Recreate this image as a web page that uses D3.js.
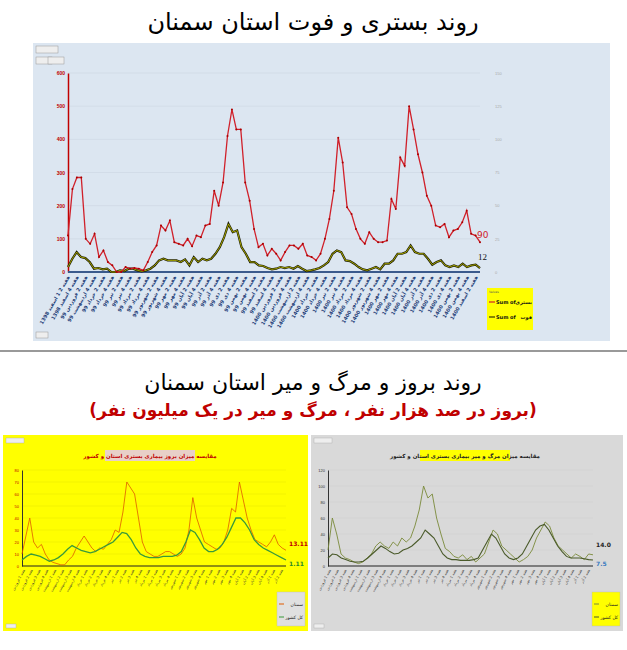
<!DOCTYPE html>
<html><head><meta charset="utf-8">
<script src="https://cdn.jsdelivr.net/npm/d3@7"></script>
<style>body{margin:0;background:#fff;font-family:"DejaVu Sans",sans-serif}</style>
</head><body><div id="chart"></div>
<script>
// top chart: hospitalised (bastari) and deaths (fot), weekly
const hosp = [110,250,285,285,100,85,115,45,65,30,20,0,0,15,10,12,10,5,30,60,80,140,125,155,90,85,80,100,78,110,105,140,145,245,200,270,410,490,430,430,270,215,130,75,85,50,70,55,35,60,80,80,70,85,50,45,35,55,100,160,245,405,330,195,175,130,100,85,120,100,90,90,95,220,190,345,320,500,430,355,300,230,200,140,135,145,105,125,130,150,185,115,110,90];
const death = [15,40,60,45,42,30,10,12,8,10,0,0,5,3,10,10,5,2,5,10,20,35,40,35,35,35,30,38,20,45,30,40,35,40,55,75,105,145,120,125,75,55,30,30,20,18,12,8,10,15,12,15,10,18,10,3,5,8,12,20,30,55,65,60,35,33,25,15,8,5,10,15,8,25,25,35,55,55,60,80,60,55,55,40,22,30,35,20,15,20,15,25,15,20,22,12];
const topTicks = [0,100,200,300,400,500,600];
const monthNames = ["فروردین","اردیبهشت","خرداد","تیر","مرداد","شهریور","مهر","آبان","آذر","دی","بهمن","اسفند"];
const topLabels = ["هفته 2 1 اسفند 1398","هفته 4 اسفند 1398","هفته 2 فروردین 99","هفته 4 اردیبهشت 99","هفته 2 خرداد 99","هفته 4 خرداد 99","هفته 2 تیر 99","هفته 4 تیر 99","هفته 2 مرداد 99","هفته 4 مرداد 99","هفته 2 شهریور 99","هفته 4 شهریور 99","هفته 2 مهر 99","هفته 4 مهر 99","هفته 2 آبان 99","هفته 4 آبان 99","هفته 2 آذر 99","هفته 4 آذر 99","هفته 2 دی 99","هفته 4 دی 99","هفته 2 بهمن 99","هفته 4 بهمن 99","هفته 2 اسفند 99","هفته 4 اسفند 99","هفته 2 فروردین 1400","هفته 4 فروردین 1400","هفته 2 اردیبهشت 1400","هفته 4 اردیبهشت 1400","هفته 2 خرداد 1400","هفته 4 خرداد 1400","هفته 2 تیر 1400","هفته 4 تیر 1400","هفته 2 مرداد 1400","هفته 4 مرداد 1400","هفته 2 شهریور 1400","هفته 4 شهریور 1400","هفته 2 مهر 1400","هفته 4 مهر 1400","هفته 2 آبان 1400","هفته 4 آبان 1400","هفته 2 آذر 1400","هفته 4 آذر 1400","هفته 2 دی 1400","هفته 4 دی 1400","هفته 2 بهمن 1400","هفته 4 بهمن 1400","هفته 2 اسفند 1400"];

// bottom-left: incidence per 100k (Semnan vs Iran)
const incSemnan = [10,25,40,20,15,18,10,5,3,2,1,1,5,8,15,20,25,20,15,12,15,14,18,22,30,28,45,70,65,60,40,20,12,10,8,8,10,12,12,10,8,10,15,30,57,40,30,20,18,16,14,15,20,30,48,45,70,55,40,30,22,20,18,16,20,26,18,15,13.11];
const incIran = [5,8,10,9,8,6,4,5,7,10,14,17,15,13,12,11,12,14,16,18,20,24,28,27,22,15,10,8,7,7,7,8,8,8,9,12,20,30,28,22,15,12,12,14,18,24,32,40,40,36,30,22,18,15,13,11,9,7,5];
const incTicks = [0,10,20,30,40,50,60,70,80];
// bottom-right: mortality per million
const morSemnan = [20,60,40,15,10,8,5,3,5,10,15,25,30,25,22,30,25,35,30,35,50,70,100,85,90,60,40,22,18,12,10,14,8,12,5,10,15,30,45,40,25,20,15,10,5,8,12,20,35,45,55,50,35,25,20,15,10,15,12,8,15,14];
const morIran = [10,15,14,10,8,6,5,5,6,10,15,20,25,22,18,15,16,20,22,25,30,35,45,40,35,25,15,10,8,8,7,7,7,8,10,20,30,40,35,25,15,10,8,10,15,25,35,45,50,52,45,35,25,18,12,10,10,10,9,8,7.5];
const morTicks = [0,20,40,60,80,100,120];
const smallLabels = d3.range(34).map(i => "هفته " + (i % 4 + 1) + " " + monthNames[(i >> 2) % 12]);

const svg = d3.select('#chart').append('svg').attr('width', 627).attr('height', 650);

svg.append('text').attr('x', 313).attr('y', 30).attr('text-anchor', 'middle')
  .attr('font-size', 24).text('روند بستری و فوت استان سمنان');

// top panel
svg.append('rect').attr('x', 33).attr('y', 43).attr('width', 577).attr('height', 298).attr('fill', '#dce6f1');
[[36,46,22],[36,57,16],[48,57,16]].forEach(b => svg.append('rect').attr('x', b[0]).attr('y', b[1]).attr('width', b[2]).attr('height', 7).attr('fill', '#eee').attr('stroke', '#999').attr('stroke-width', 0.5));
svg.append('rect').attr('x', 36).attr('y', 332).attr('width', 12).attr('height', 6).attr('fill', '#eee').attr('stroke', '#999').attr('stroke-width', 0.5);

const x1 = d3.scaleLinear().domain([0, hosp.length - 1]).range([68, 480]);
const xd = d3.scaleLinear().domain([0, death.length - 1]).range([68, 480]);
const y1 = d3.scaleLinear().domain([0, 600]).range([272, 73]);
const gTop = svg.append('g');
gTop.selectAll('.gl').data(topTicks.slice(1)).join('line').attr('x1', 68).attr('x2', 480)
  .attr('y1', d => y1(d)).attr('y2', d => y1(d)).attr('stroke', '#c9d3de').attr('stroke-width', 0.5);
gTop.append('g').attr('transform', 'translate(68,0)').call(d3.axisLeft(y1).tickValues(topTicks).tickSize(0))
  .call(g => g.select('.domain').attr('stroke', '#c00000').attr('stroke-width', 1.5))
  .call(g => g.selectAll('text').attr('fill', '#c00000').attr('font-size', 5).attr('font-weight', 'bold'));
gTop.append('g').attr('transform', 'translate(492,0)').call(d3.axisRight(y1).tickValues(topTicks).tickSize(0).tickFormat(d => d / 5 * 1.25))
  .call(g => g.select('.domain').remove())
  .call(g => g.selectAll('text').attr('fill', '#aaa').attr('font-size', 4));
gTop.append('line').attr('x1', 68).attr('x2', 480).attr('y1', 272).attr('y2', 272).attr('stroke', '#3b5a8c').attr('stroke-width', 2);
gTop.append('path').datum(death).attr('fill', 'none').attr('stroke', '#1a1a00').attr('stroke-width', 2.2)
  .attr('d', d3.line().x((d, i) => xd(i)).y(d => y1(d)));
gTop.append('path').datum(death).attr('fill', 'none').attr('stroke', '#c8c800').attr('stroke-width', 0.8)
  .attr('d', d3.line().x((d, i) => xd(i)).y(d => y1(d)));
gTop.append('path').datum(hosp).attr('fill', 'none').attr('stroke', '#d0202a').attr('stroke-width', 1.3)
  .attr('d', d3.line().x((d, i) => x1(i)).y(d => y1(d)));
gTop.selectAll('.pt').data(hosp).join('circle').attr('cx', (d, i) => x1(i)).attr('cy', d => y1(d)).attr('r', 1).attr('fill', '#a00');
gTop.append('text').attr('x', x1(hosp.length - 1) - 3).attr('y', y1(hosp[hosp.length - 1]) - 4).attr('fill', '#d0202a').attr('font-size', 9).text(hosp[hosp.length - 1]);
gTop.append('text').attr('x', xd(death.length - 1) - 2).attr('y', y1(death[death.length - 1]) - 8).attr('fill', '#111').attr('font-size', 9).attr('font-family', 'Liberation Serif').text(death[death.length - 1]);
const xl = d3.scaleLinear().domain([0, topLabels.length - 1]).range([70, 478]);
gTop.selectAll('.xl').data(topLabels).join('text')
  .attr('transform', (d, i) => `translate(${xl(i)},277) rotate(-60)`).attr('text-anchor', 'end')
  .attr('font-size', 5).attr('font-weight', 'bold').attr('fill', '#1f3e78').text(d => d);
// legend
const lg = gTop.append('g').attr('transform', 'translate(487,288)');
lg.append('rect').attr('width', 46).attr('height', 42).attr('fill', '#ffff00');
lg.append('text').attr('x', 2).attr('y', 5).attr('font-size', 3).attr('fill', '#555').text('Values');
[['#d0202a', 'بستری', 16], ['#333300', 'فوت', 31]].forEach(r => {
  lg.append('line').attr('x1', 2).attr('x2', 8).attr('y1', r[2] - 2).attr('y2', r[2] - 2).attr('stroke', r[0]).attr('stroke-width', 1.2);
  lg.append('text').attr('x', 9).attr('y', r[2]).attr('font-size', 5).attr('font-weight', 'bold').attr('fill', '#111').text('Sum of');
  lg.append('text').attr('x', 45).attr('y', r[2]).attr('text-anchor', 'end').attr('font-size', 5).attr('font-weight', 'bold').attr('fill', '#111').text(r[1]);
});

svg.append('line').attr('x1', 0).attr('x2', 627).attr('y1', 351).attr('y2', 351).attr('stroke', '#999').attr('stroke-width', 2);
svg.append('text').attr('x', 313).attr('y', 390).attr('text-anchor', 'middle').attr('font-size', 22).text('روند بروز و مرگ و میر استان سمنان');
svg.append('text').attr('x', 313).attr('y', 416).attr('text-anchor', 'middle').attr('font-size', 17).attr('font-weight', 'bold')
  .attr('fill', '#c00000').text('(بروز در صد هزار نفر ، مرگ و میر در یک میلیون نفر)');

function panel(o) {
  const g = svg.append('g');
  g.append('rect').attr('x', o.x0).attr('y', 435).attr('width', o.w).attr('height', 196).attr('fill', o.bg);
  g.append('rect').attr('x', o.x0 + 3).attr('y', 438).attr('width', 18).attr('height', 5).attr('fill', '#eee').attr('stroke', '#aaa').attr('stroke-width', 0.4);
  g.append('rect').attr('x', o.x0 + 3).attr('y', 624).attr('width', 10).attr('height', 4).attr('fill', '#eee').attr('stroke', '#aaa').attr('stroke-width', 0.4);
  g.append('rect').attr('x', o.tx - 45).attr('y', 450).attr('width', 90).attr('height', 11).attr('fill', o.titleBg);
  g.append('text').attr('x', o.tx).attr('y', 458).attr('text-anchor', 'middle').attr('font-size', 5.5).attr('font-weight', 'bold').attr('fill', o.titleFill).text(o.title);
  const y = d3.scaleLinear().domain([0, o.ticks[o.ticks.length - 1]]).range([566, 470]);
  o.ticks.slice(1).forEach(t => g.append('line').attr('x1', o.ax).attr('x2', o.ex).attr('y1', y(t)).attr('y2', y(t)).attr('stroke', o.grid).attr('stroke-width', 0.4));
  g.append('g').attr('transform', `translate(${o.ax},0)`).call(d3.axisLeft(y).tickValues(o.ticks).tickSize(0))
    .call(a => a.select('.domain').attr('stroke', '#333'))
    .call(a => a.selectAll('text').attr('font-size', 4).attr('fill', o.tickFill));
  g.append('line').attr('x1', o.ax).attr('x2', o.ex).attr('y1', 566).attr('y2', 566).attr('stroke', '#222').attr('stroke-width', 1.2);
  o.series.forEach(s => {
    const x = d3.scaleLinear().domain([0, s.v.length - 1]).range([o.ax, o.ex]);
    g.append('path').datum(s.v).attr('fill', 'none').attr('stroke', s.c).attr('stroke-width', s.w)
      .attr('d', d3.line().x((d, i) => x(i)).y(d => y(d)));
    g.append('text').attr('x', o.ex + 3).attr('y', s.ly).attr('font-size', 6).attr('font-weight', 'bold').attr('fill', s.lc).text(s.label);
  });
  const xl = d3.scaleLinear().domain([0, smallLabels.length - 1]).range([o.ax + 3, o.ex - 3]);
  g.selectAll('.sl').data(smallLabels).join('text')
    .attr('transform', (d, i) => `translate(${xl(i)},570) rotate(-62)`).attr('text-anchor', 'end')
    .attr('font-size', 3.5).attr('fill', '#333').text(d => d);
  const lg = g.append('g').attr('transform', `translate(${o.lx},592)`);
  lg.append('rect').attr('width', 28).attr('height', 34).attr('fill', o.legBg).attr('stroke', '#bbb').attr('stroke-width', 0.4);
  o.series.forEach((s, i) => {
    lg.append('line').attr('x1', 2).attr('x2', 7).attr('y1', 12 + i * 13).attr('y2', 12 + i * 13).attr('stroke', s.c).attr('stroke-width', 1);
    lg.append('text').attr('x', 26).attr('y', 14 + i * 13).attr('text-anchor', 'end').attr('font-size', 4.5).attr('fill', '#222').text(s.name);
  });
}

panel({x0: 3, w: 305, bg: '#ffff00', tx: 150, title: 'مقایسه میزان بروز بیماری بستری استان و کشور', titleBg: '#e8d0c8', titleFill: '#c00000',
  ax: 22, ex: 286, ticks: incTicks, grid: '#e0e000', tickFill: '#c00000', lx: 277, legBg: '#e0e0e0',
  series: [{v: incSemnan, c: '#e05a00', w: 0.8, label: '13.11', lc: '#c00000', ly: 546, name: 'سمنان'},
           {v: incIran, c: '#3a9a3a', w: 1.3, label: '1.11', lc: '#2a8a2a', ly: 566, name: 'کل کشور'}]});
panel({x0: 311, w: 312, bg: '#d9d9d9', tx: 465, title: 'مقایسه میزان مرگ و میر بیماری بستری استان و کشور', titleBg: '#ffff00', titleFill: '#222',
  ax: 328, ex: 593, ticks: morTicks, grid: '#ccc', tickFill: '#333', lx: 592, legBg: '#ffff00',
  series: [{v: morSemnan, c: '#7a8a3a', w: 0.9, label: '14.0', lc: '#222', ly: 547, name: 'سمنان'},
           {v: morIran, c: '#4a5a2a', w: 1.1, label: '7.5', lc: '#3a7ac0', ly: 566, name: 'کل کشور'}]});
</script></body></html>
